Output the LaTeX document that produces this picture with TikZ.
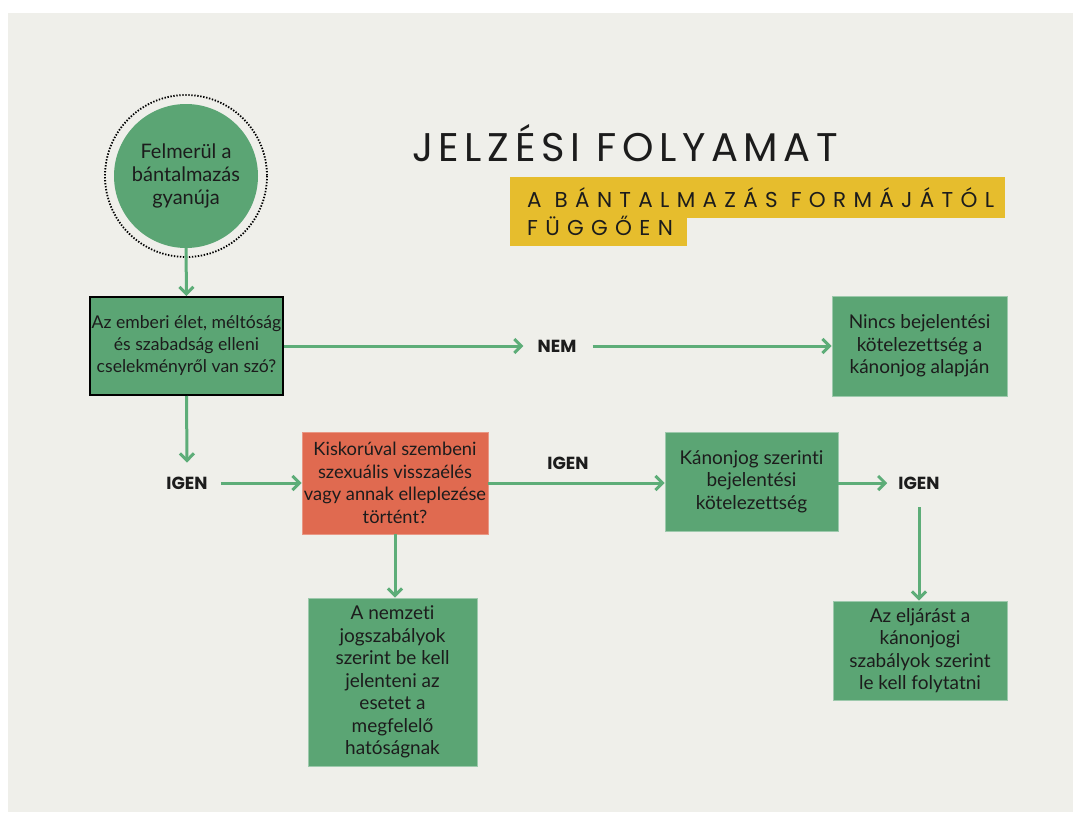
\documentclass[tikz,border=0pt]{standalone}
\usepackage{fontspec}
\setmainfont{Lato}[Ligatures=NoCommon]
\newfontfamily\titlefont{Poppins}
\newfontfamily\bannerfont[LetterSpace=34]{Poppins}
\newfontfamily\headfont[LetterSpace=14]{Poppins}
\usetikzlibrary{arrows.meta}
\definecolor{bg}{HTML}{EFEFEA}
\definecolor{boxgreen}{HTML}{5BA574}
\definecolor{arrgreen}{HTML}{5DAD78}
\definecolor{boxred}{HTML}{E06A50}
\definecolor{banner}{HTML}{E6BD2D}
\definecolor{ink}{HTML}{1C1C1C}
\begin{document}
\begin{tikzpicture}[x=1pt,y=-1pt,
  body/.style={font=\fontsize{19}{22.5}\selectfont, text=ink, align=center, inner sep=0pt},
  gbox/.style={body, fill=boxgreen, draw=boxgreen!60!white, line width=0.8pt},
  lbl/.style={font=\titlefont\bfseries\fontsize{17.5}{18}\selectfont, text=ink, inner sep=0pt},
  conn/.style={draw=arrgreen, line width=3pt, -{Straight Barb[length=7pt,width=14pt]}}
]
\useasboundingbox (0,0) rectangle (1073,816);
\fill[white] (0,0) rectangle (1073,816);
\fill[bg] (8,13) rectangle (1073,812);

% title
\node[font=\headfont\fontsize{40}{42}\selectfont, text=ink, inner sep=0pt] (title) at (625,143) {JELZÉSI FOLYAMAT};
\fill[banner] (510,177) rectangle (1005,218);
\fill[banner] (510,217) rectangle (687,246);
\node[font=\bannerfont\fontsize{21.5}{22}\selectfont, text=ink, anchor=west, inner sep=0pt] (sub1) at (527,198) {A BÁNTALMAZÁS FORMÁJÁTÓL};
\node[font=\bannerfont\fontsize{21.5}{22}\selectfont, text=ink, anchor=west, inner sep=0pt] (sub2) at (527,226) {FÜGGŐEN};

% start circle
\node[body, circle, fill=boxgreen, minimum size=144pt, font=\fontsize{20}{23}\selectfont] (start) at (186,176) {Felmerül a\\bántalmazás\\gyanúja};
\draw[black, line width=1.8pt, dash pattern=on 1.4pt off 1.6pt] (start.center) circle (81);

% boxes
\node[body, fill=boxgreen, draw=black, line width=2pt, minimum width=193pt, minimum height=98pt, font=\fontsize{17.6}{22}\selectfont] (q1) at (186.5,346) {Az emberi élet, méltóság\\és szabadság elleni\\cselekményről van szó?};
\node[gbox, minimum width=175pt, minimum height=100pt] (nincs) at (919.5,346) {Nincs bejelentési\\kötelezettség a\\kánonjog alapján};
\node[body, fill=boxred, draw=boxred!70!white, line width=0.8pt, minimum width=186pt, minimum height=102pt, font=\fontsize{18.3}{22.5}\selectfont] (q2) at (395,483) {Kiskorúval szembeni\\szexuális visszaélés\\vagy annak elleplezése\\történt?};
\node[gbox, minimum width=173pt, minimum height=99pt] (kanon) at (751.5,481.5) {Kánonjog szerinti\\bejelentési\\kötelezettség};
\node[gbox, minimum width=169pt, minimum height=168pt] (nemzeti) at (392.5,682) {A nemzeti\\jogszabályok\\szerint be kell\\jelenteni az\\esetet a\\megfelelő\\hatóságnak};
\node[gbox, minimum width=174pt, minimum height=99pt] (eljaras) at (920,650.5) {Az eljárást a\\kánonjogi\\szabályok szerint\\le kell folytatni};

% labels
\node[lbl] (nem) at (557,346) {NEM};
\node[lbl] (igen1) at (187,483) {IGEN};
\node[lbl] (igen2) at (568,463) {IGEN};
\node[lbl] (igen3) at (919,483) {IGEN};

% connectors
\draw[conn] (start.south) -- (q1.north);
\draw[conn] (q1.east) -- ([xshift=-14pt]nem.west);
\draw[conn] ([xshift=16pt]nem.east) -- (nincs.west);
\draw[conn] (q1.south) -- ([yshift=14pt]igen1.north);
\draw[conn] ([xshift=13pt]igen1.east |- q2.east) -- (q2.west);
\draw[conn] (q2.east) -- (q2.east -| kanon.west);
\draw[conn] (kanon.east |- igen3.west) -- ([xshift=-11pt]igen3.west);
\draw[conn] ([yshift=-18pt]igen3.south) -- (igen3.south |- eljaras.north);
\draw[conn] (q2.south) -- (q2.south |- nemzeti.north);
\end{tikzpicture}
\end{document}
